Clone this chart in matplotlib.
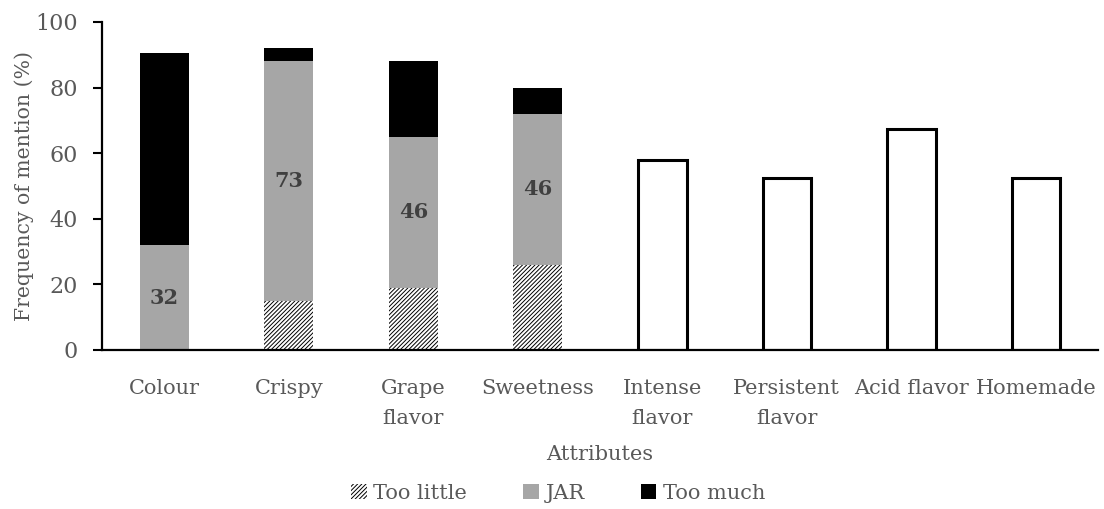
import matplotlib
matplotlib.use("Agg")
import matplotlib.pyplot as plt
import numpy as np

plt.rcParams['font.family'] = ['DejaVu Serif']
plt.rcParams['hatch.linewidth'] = 0.7

attributes = ["Colour", "Crispy", "Grape\nflavor", "Sweetness",
              "Intense\nflavor", "Persistent\nflavor", "Acid flavor", "Homemade"]
too_little = [0, 15, 19, 26, 0, 0, 0, 0]
jar = [32, 73, 46, 46, 0, 0, 0, 0]
too_much = [58.5, 4, 23, 8, 0, 0, 0, 0]
mention = [0, 0, 0, 0, 58, 52.5, 67.5, 52.5]

grey_txt = "#595959"
x = np.arange(len(attributes))
w = 0.39

fig = plt.figure(figsize=(11.04, 5.09), dpi=100)
ax = fig.add_axes([0.0924, 0.3124, 0.9022, 0.6444])

b1 = ax.bar(x, too_little, w, color="white", edgecolor="black", hatch="////////",
            linewidth=0, label="Too little")
b2 = ax.bar(x, jar, w, bottom=too_little, color="#A6A6A6", label="JAR")
bottom2 = np.array(too_little) + np.array(jar)
b3 = ax.bar(x, too_much, w, bottom=bottom2, color="black", label="Too much")

idx = [i for i, v in enumerate(mention) if v > 0]
ax.bar(x[idx], [mention[i] for i in idx], w, color="white", edgecolor="black",
       linewidth=2.2)

for i in range(len(attributes)):
    if jar[i] > 0:
        ax.text(x[i], too_little[i] + jar[i] / 2, f"{jar[i]:g}", ha="center",
                va="center", fontsize=15, fontweight="bold", color="#404040")

ax.set_xlim(-0.5, len(attributes) - 0.5)
ax.set_ylim(0, 100)
ax.set_yticks(range(0, 101, 20))
ax.set_xticks(x)
ax.set_xticklabels(attributes, fontsize=15, color=grey_txt, va="top", linespacing=1.75)
ax.tick_params(axis="x", length=0, pad=21)
ax.tick_params(axis="y", length=6.5, width=1.5, labelsize=16, labelcolor=grey_txt,
               direction="out", pad=11)
for s in ["top", "right"]:
    ax.spines[s].set_visible(False)
ax.spines["left"].set_linewidth(1.6)
ax.spines["bottom"].set_linewidth(1.6)
ax.set_ylabel("Frequency of mention (%)", fontsize=14.7, color=grey_txt, labelpad=1)
ax.set_xlabel("Attributes", fontsize=15, color=grey_txt, labelpad=12)

leg = ax.legend(handles=[b1, b2, b3], loc="center", bbox_to_anchor=(0.458, -0.437),
                ncol=3, frameon=False, fontsize=15, handlelength=0.75, handleheight=0.75,
                handletextpad=0.3, columnspacing=2.7, labelcolor=grey_txt)

fig.savefig("out.png", dpi=100)
